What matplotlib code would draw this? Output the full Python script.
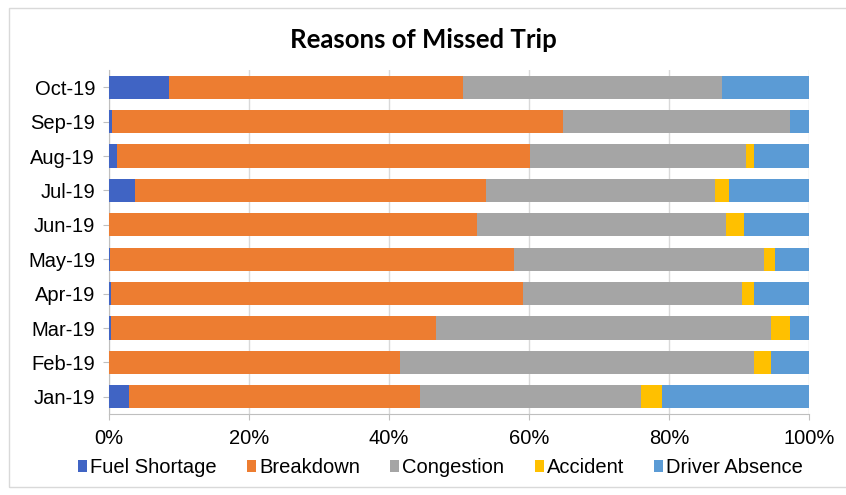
import matplotlib.pyplot as plt
from matplotlib.patches import Rectangle
from matplotlib.ticker import PercentFormatter

months = ["Jan-19", "Feb-19", "Mar-19", "Apr-19", "May-19",
          "Jun-19", "Jul-19", "Aug-19", "Sep-19", "Oct-19"]
reasons = ["Fuel Shortage", "Breakdown", "Congestion", "Accident", "Driver Absence"]

# shares per month, in percent
fuel_shortage = [2.9, 0.0, 0.3, 0.3, 0.2, 0.0, 3.7, 1.1, 0.4, 8.6]
breakdown = [41.5, 41.5, 46.4, 58.8, 57.7, 52.6, 50.2, 59.1, 64.5, 42.0]
congestion = [31.6, 50.7, 47.8, 31.3, 35.7, 35.5, 32.6, 30.8, 32.4, 36.9]
accident = [3.0, 2.3, 2.8, 1.8, 1.5, 2.6, 2.0, 1.1, 0.0, 0.0]
driver_absence = [21.0, 5.5, 2.7, 7.8, 4.9, 9.3, 11.5, 7.9, 2.7, 12.5]

colors = ["#4064C4", "#ED7D31", "#A5A5A5", "#FFC000", "#5B9BD5"]
series = [fuel_shortage, breakdown, congestion, accident, driver_absence]

plt.rcParams['font.family'] = ['Liberation Sans Narrow', 'Liberation Sans', 'DejaVu Sans']

fig = plt.figure(figsize=(8.46, 4.95), dpi=100)
ax = fig.add_axes([109 / 846, 1 - 414 / 495, 700 / 846, 344 / 495])

left = [0.0] * len(months)
for name, vals, c in zip(reasons, series, colors):
    ax.barh(months, vals, left=left, height=0.68, color=c, label=name, zorder=3)
    left = [l + v for l, v in zip(left, vals)]

ax.set_xlim(0, 100)
ax.set_ylim(-0.5, len(months) - 0.5)
ax.set_xticks(range(0, 101, 20))
ax.xaxis.set_major_formatter(PercentFormatter(decimals=0))
ax.grid(axis='x', color='#D9D9D9', linewidth=1, zorder=0)

for side in ['top', 'right']:
    ax.spines[side].set_visible(False)
for side in ['left', 'bottom']:
    ax.spines[side].set_color('#BFBFBF')
ax.tick_params(axis='both', colors='#BFBFBF', labelcolor='#000000', labelsize=14.5, length=4)
ax.tick_params(axis='x', pad=7)
ax.tick_params(axis='y', pad=6)

fig.text(0.5, 1 - 40 / 495, "Reasons of Missed Trip", ha='center', va='center',
         fontsize=18.5, fontweight='bold', family=['Lato', 'DejaVu Sans'])

ax.legend(loc='upper center', bbox_to_anchor=(0.474, -0.075), ncol=5, frameon=False,
          fontsize=14.5, handlelength=0.45, handleheight=0.5, handletextpad=0.15,
          columnspacing=1.5)

# outer chart border
fig.patches.append(Rectangle((9 / 846, 8 / 495), 1, 1 - 16 / 495, transform=fig.transFigure,
                             fill=False, edgecolor='#D9D9D9', linewidth=1))

fig.savefig("out.png", dpi=100)
